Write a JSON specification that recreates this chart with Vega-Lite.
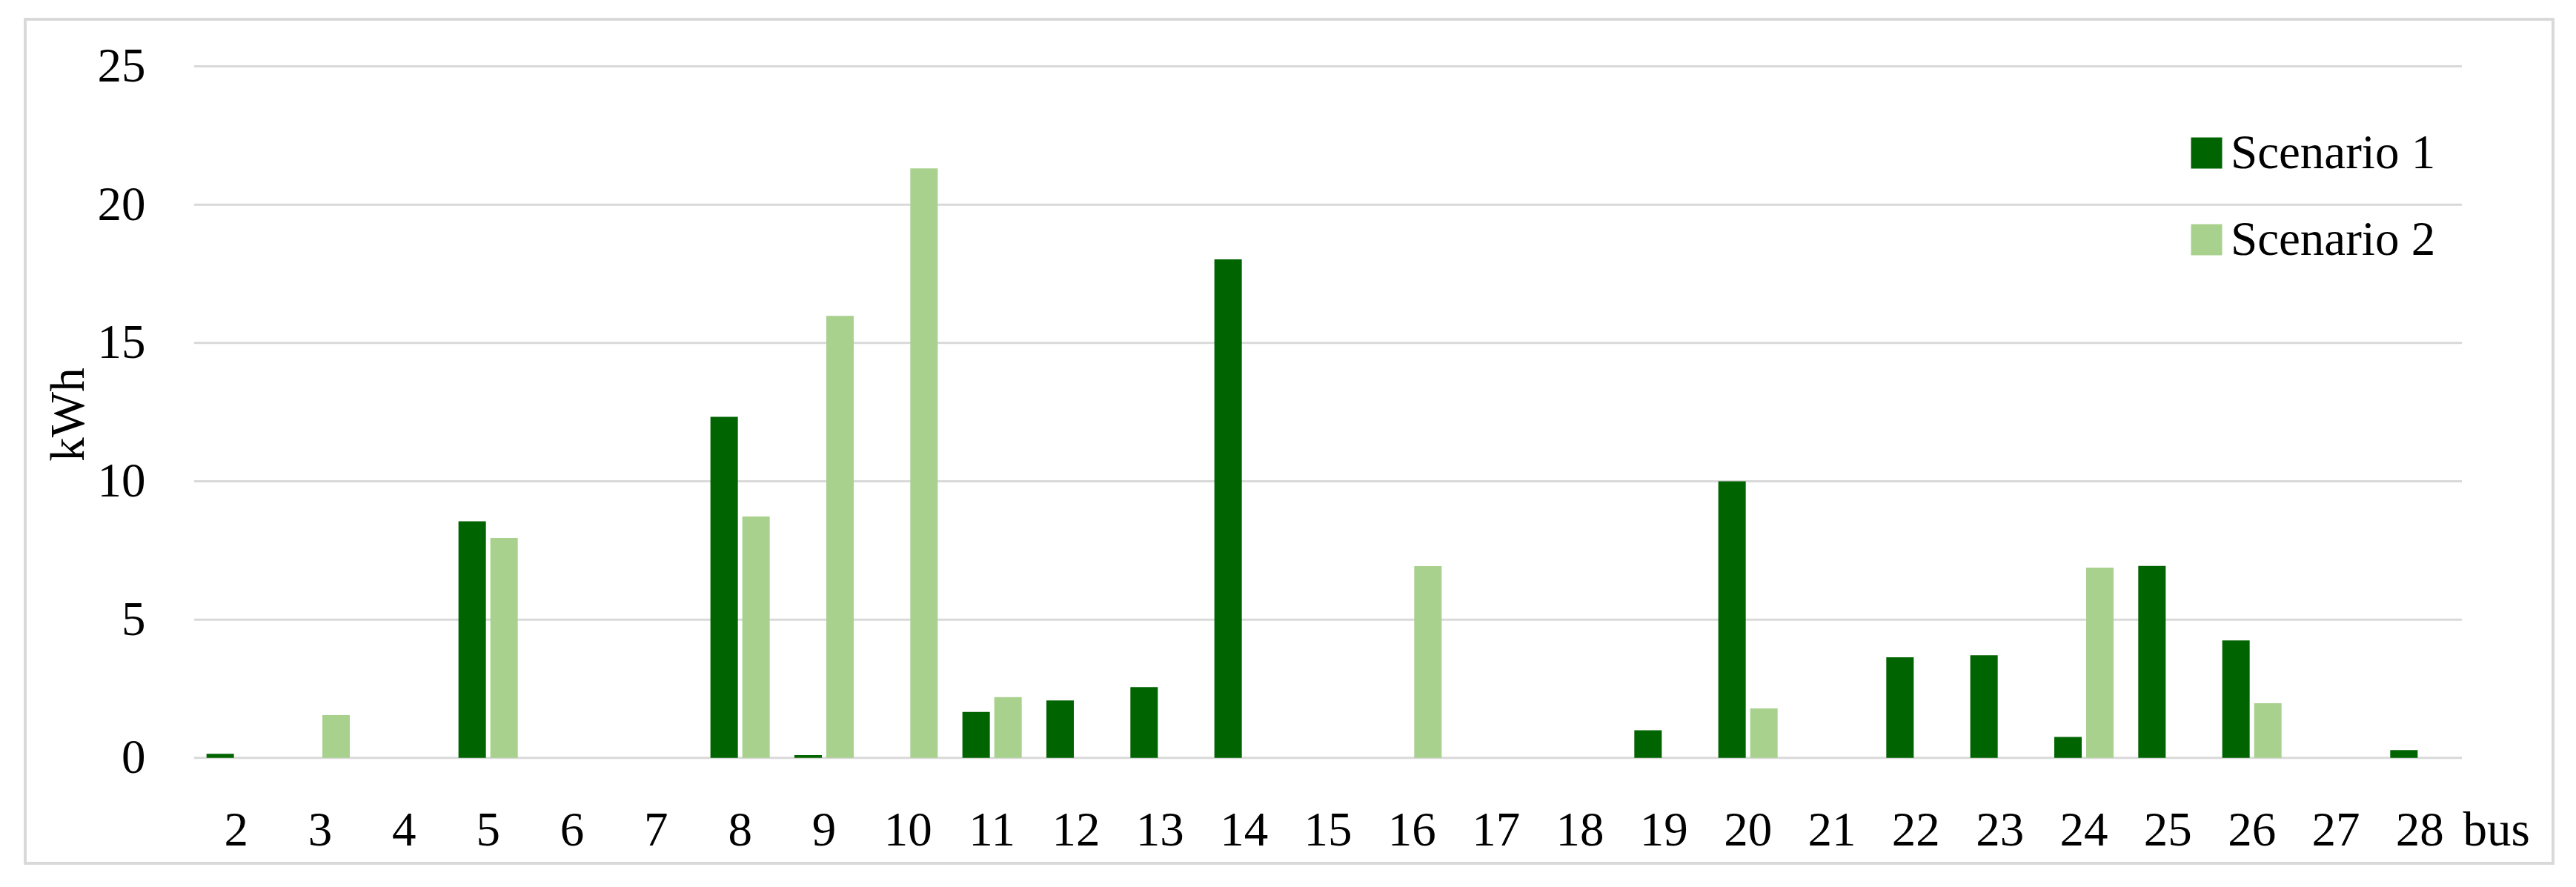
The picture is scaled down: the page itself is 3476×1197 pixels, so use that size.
{
  "$schema": "https://vega.github.io/schema/vega-lite/v6.json",
  "width": 3411,
  "height": 1139,
  "autosize": {"type": "none"},
  "padding": {"left": 34, "top": 26, "right": 31, "bottom": 32},
  "background": "#ffffff",
  "config": {
    "view": {"stroke": "#d9d9d9", "strokeWidth": 4},
    "font": "Liberation Serif"
  },
  "datasets": {
    "bars": [
      {"bus": "2", "scenario": "Scenario 1", "kWh": 0.15},
      {"bus": "3", "scenario": "Scenario 2", "kWh": 1.55},
      {"bus": "5", "scenario": "Scenario 1", "kWh": 8.55},
      {"bus": "5", "scenario": "Scenario 2", "kWh": 7.95},
      {"bus": "8", "scenario": "Scenario 1", "kWh": 12.33},
      {"bus": "8", "scenario": "Scenario 2", "kWh": 8.73},
      {"bus": "9", "scenario": "Scenario 1", "kWh": 0.1},
      {"bus": "9", "scenario": "Scenario 2", "kWh": 15.98},
      {"bus": "10", "scenario": "Scenario 2", "kWh": 21.31},
      {"bus": "11", "scenario": "Scenario 1", "kWh": 1.66},
      {"bus": "11", "scenario": "Scenario 2", "kWh": 2.2},
      {"bus": "12", "scenario": "Scenario 1", "kWh": 2.08},
      {"bus": "13", "scenario": "Scenario 1", "kWh": 2.56},
      {"bus": "14", "scenario": "Scenario 1", "kWh": 18.02},
      {"bus": "16", "scenario": "Scenario 2", "kWh": 6.93},
      {"bus": "19", "scenario": "Scenario 1", "kWh": 1.0},
      {"bus": "20", "scenario": "Scenario 1", "kWh": 10.0},
      {"bus": "20", "scenario": "Scenario 2", "kWh": 1.79},
      {"bus": "22", "scenario": "Scenario 1", "kWh": 3.64},
      {"bus": "23", "scenario": "Scenario 1", "kWh": 3.71},
      {"bus": "24", "scenario": "Scenario 1", "kWh": 0.76},
      {"bus": "24", "scenario": "Scenario 2", "kWh": 6.88},
      {"bus": "25", "scenario": "Scenario 1", "kWh": 6.94},
      {"bus": "26", "scenario": "Scenario 1", "kWh": 4.25},
      {"bus": "26", "scenario": "Scenario 2", "kWh": 1.98},
      {"bus": "28", "scenario": "Scenario 1", "kWh": 0.28}
    ],
    "grid": [{"v": 0}, {"v": 5}, {"v": 10}, {"v": 15}, {"v": 20}, {"v": 25}]
  },
  "layer": [
    {
      "data": {"name": "grid"},
      "mark": {"type": "rule", "color": "#d9d9d9", "strokeWidth": 3},
      "encoding": {
        "y": {"field": "v", "type": "quantitative", "title": "kWh"},
        "x": {"datum": "2", "type": "nominal", "bandPosition": 0, "title": "bus"},
        "x2": {"datum": "28", "bandPosition": 1}
      }
    },
    {
      "data": {"name": "bars"},
      "mark": {"type": "bar"},
      "encoding": {
        "x": {
          "field": "bus",
          "type": "nominal",
          "title": "bus",
          "scale": {
            "domain": ["2","3","4","5","6","7","8","9","10","11","12","13","14","15","16","17","18","19","20","21","22","23","24","25","26","27","28"],
            "range": [228, 3288],
            "paddingInner": 0,
            "paddingOuter": 0
          },
          "axis": {
            "orient": "bottom",
            "offset": -142,
            "bandPosition": 0.5,
            "domain": false,
            "ticks": false,
            "tickSize": 0,
            "grid": false,
            "labelAngle": 0,
            "labelAlign": "center",
            "labelPadding": 117,
            "labelBaseline": "alphabetic",
            "labelFont": "Liberation Serif",
            "labelFontSize": 65,
            "labelColor": "#000000",
            "labelOverlap": false,
            "title": "bus",
            "titleX": 3289,
            "titleY": 117,
            "titleAlign": "left",
            "titleBaseline": "alphabetic",
            "titleAngle": 0,
            "titleFont": "Liberation Serif",
            "titleFontSize": 65,
            "titleFontWeight": "normal",
            "titleColor": "#000000"
          }
        },
        "xOffset": {
          "field": "scenario",
          "type": "nominal",
          "scale": {"domain": ["Scenario 1", "Scenario 2"], "paddingInner": 0.1395, "paddingOuter": 0.3872}
        },
        "y": {
          "field": "kWh",
          "type": "quantitative",
          "title": "kWh",
          "scale": {"domain": [-3.809, 26.701], "nice": false, "zero": false},
          "axis": {
            "orient": "left",
            "offset": -228,
            "domain": false,
            "ticks": false,
            "tickSize": 0,
            "grid": false,
            "values": [0, 5, 10, 15, 20, 25],
            "labelPadding": 66,
            "labelFont": "Liberation Serif",
            "labelFontSize": 65,
            "labelColor": "#000000",
            "title": "kWh",
            "titleX": -150,
            "titleY": 533,
            "titleAngle": -90,
            "titleAlign": "center",
            "titleBaseline": "alphabetic",
            "titleFont": "Liberation Serif",
            "titleFontSize": 65,
            "titleFontWeight": "normal",
            "titleColor": "#000000"
          }
        },
        "y2": {"datum": 0},
        "color": {
          "field": "scenario",
          "type": "nominal",
          "scale": {"domain": ["Scenario 1", "Scenario 2"], "range": ["#006400", "#a9d18e"]},
          "legend": {
            "title": null,
            "orient": "none",
            "legendX": 2911,
            "legendY": 148,
            "padding": 0,
            "symbolType": "square",
            "symbolSize": 1764,
            "symbolStrokeWidth": 0,
            "symbolOpacity": 1,
            "labelFont": "Liberation Serif",
            "labelFontSize": 65,
            "labelColor": "#000000",
            "labelOffset": 0,
            "labelLimit": 1000,
            "rowPadding": 51
          }
        }
      }
    }
  ]
}
